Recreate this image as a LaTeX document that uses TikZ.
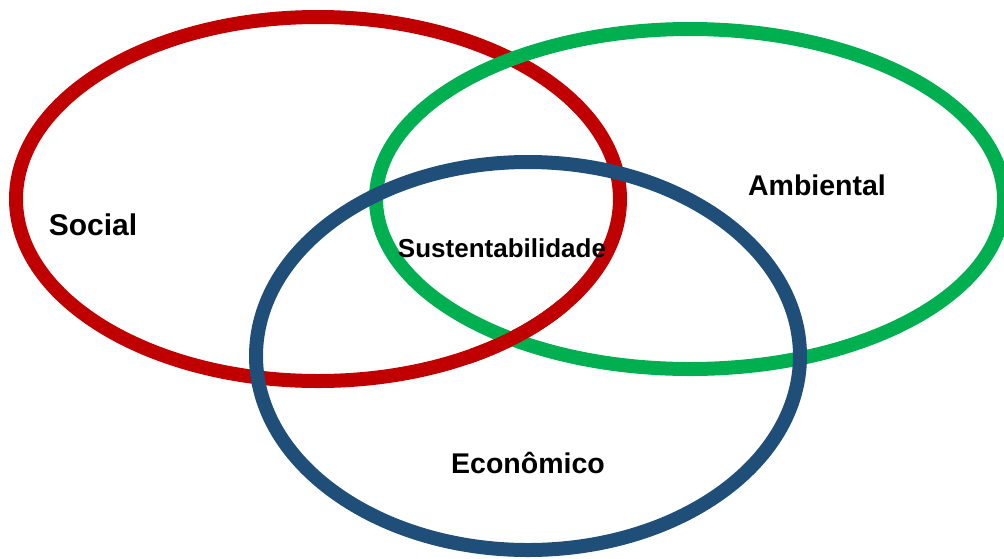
\documentclass[tikz,border=0pt]{standalone}
\usepackage{fontspec}
\setmainfont{Liberation Sans}
\definecolor{socialred}{HTML}{C00000}
\definecolor{ambgreen}{HTML}{00B050}
\definecolor{ecoblue}{HTML}{1F4E79}
\begin{document}
\begin{tikzpicture}[x=1pt, y=-1pt, ring/.style = {line width=14pt}, every node/.style = {anchor=base, inner sep=0pt, font=\bfseries}]
	\useasboundingbox (0,0) rectangle (1004,558);
	\draw[ring, socialred] (318,199) ellipse [x radius=302, y radius=182];
	\draw[ring, ambgreen] (690,199) ellipse [x radius=314, y radius=170];
	% red passes over green at the lower crossing
	\begin{scope}
		\clip (470,300) rectangle (570,380);
		\draw[ring, socialred] (318,199) ellipse [x radius=302, y radius=182];
	\end{scope}
	\draw[ring, ecoblue] (528,356) ellipse [x radius=272, y radius=194];
	\node[font=\bfseries\fontsize{30}{36}\selectfont] (social) at (93,235) {Social};
	\node[font=\bfseries\fontsize{28.5}{34}\selectfont] (ambiental) at (817,195) {Ambiental};
	\node[font=\bfseries\fontsize{26}{31}\selectfont] (sust) at (502,257) {Sustentabilidade};
	\node[font=\bfseries\fontsize{28.5}{34}\selectfont] (economico) at (528,473) {Econômico};
\end{tikzpicture}
\end{document}
